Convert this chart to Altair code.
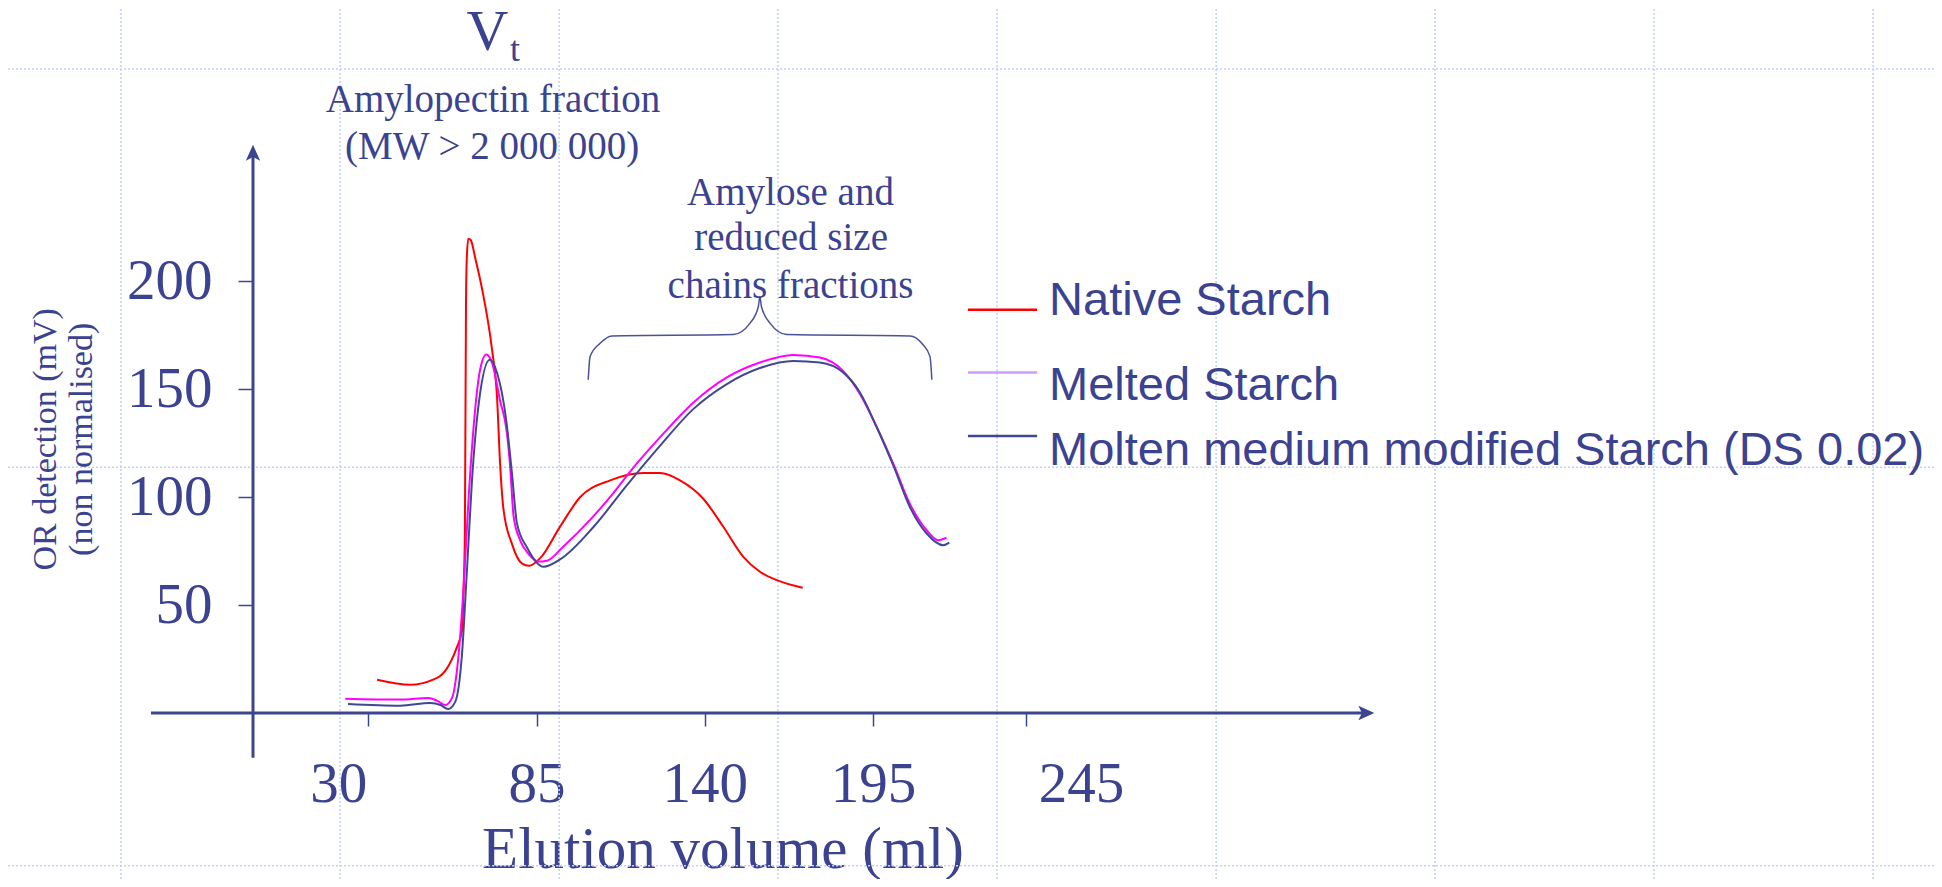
import altair as alt
import pandas as pd

# ---------------- data ----------------
SERIES = ["Native Starch", "Melted Starch", "Molten medium modified Starch (DS 0.02)"]

native_x = [32.9, 43.8, 51.4, 53.5, 56.5, 59.0, 60.6, 61.2, 61.6, 61.95, 62.2, 62.7, 63.5, 65.0,
            67.2, 70.4, 72.1, 73.1, 74.2, 77.0, 80.2, 82.6, 86.2, 92.7, 99.3, 109.1, 120.0, 125.4,
            131.9, 139.5, 146.1, 152.6, 158.0, 163.5, 172.0]
native_y = [15.4, 13.1, 15.6, 17.1, 22.5, 30.5, 38.0, 58.8, 84.5, 188.3, 210.0, 219.6, 219.0, 210.5,
            196.4, 168.9, 146.2, 115.4, 94.4, 78.2, 69.3, 68.2, 71.7, 86.3, 100.0, 107.7, 111.1, 111.1,
            107.7, 99.2, 86.1, 72.3, 65.4, 61.5, 58.0]

melted_x = [22.5, 40.5, 49.7, 52.5, 55.2, 57.4, 59.5, 61.2, 62.8, 64.4, 66.6, 68.6, 70.4, 73.1,
            75.3, 76.4, 77.5, 79.7, 82.5, 85.6, 88.4, 93.8, 102.5, 110.1, 115.6, 125.4, 136.3,
            147.2, 158.0, 168.9, 177.6, 185.2, 190.7, 196.2, 201.6, 207.0, 212.5, 216.3, 219.0]
melted_y = [6.6, 6.2, 7.0, 5.7, 3.7, 7.0, 26.5, 58.8, 99.3, 131.7, 159.2, 166.0, 162.4, 144.6,
            130.0, 113.8, 91.2, 79.8, 73.5, 70.1, 70.5, 77.1, 89.4, 101.8, 111.8, 127.7, 143.8,
            155.4, 162.3, 165.8, 164.6, 158.4, 147.7, 132.3, 115.4, 96.9, 84.6, 80.0, 81.2]

molten_x = [23.4, 40.5, 50.3, 53.6, 56.1, 58.5, 60.6, 62.3, 63.9, 66.1, 69.7, 72.1, 75.3, 77.0,
            78.6, 81.9, 87.3, 92.7, 103.6, 114.5, 125.4, 136.3, 147.2, 158.0, 168.9, 177.6,
            185.2, 190.7, 196.2, 201.6, 207.0, 212.5, 217.9, 219.9]
molten_y = [4.2, 3.4, 4.6, 3.7, 1.8, 5.4, 26.4, 66.9, 107.4, 143.0, 163.5, 157.5, 133.3, 110.6,
            87.9, 76.6, 67.7, 71.1, 86.1, 105.4, 123.8, 140.8, 152.3, 159.7, 163.0, 162.3,
            157.7, 148.4, 132.3, 114.6, 95.4, 83.1, 77.7, 78.9]

X_TICKS = [30, 85, 140, 195, 245]
Y_TICKS = [50, 100, 150, 200]
X_TITLE = "Elution volume (ml)"
Y_TITLE_LINES = ["OR detection (mV)", "(non normalised)"]
PEAK_LABEL_LINES = ["Amylopectin fraction", "(MW > 2 000 000)"]
HUMP_LABEL_LINES = ["Amylose and", "reduced size", "chains fractions"]

# ---------------- style / layout ----------------
W, H = 1681, 705
PAD = {"left": 245, "top": 0, "right": 0, "bottom": 166}
X_MIN, X_MAX = -7.65, 541.7
Y_MIN, Y_MAX = 0.0, 326.4
CANVAS_X = [-87.7, 541.7]
CANVAS_Y = [-76.8, 326.4]
X_SCALE = alt.Scale(domain=[X_MIN, X_MAX], nice=False, zero=False)
Y_SCALE = alt.Scale(domain=[Y_MIN, Y_MAX], nice=False, zero=False)

NAVY = "#3c4590"
TEXT = "#3b4290"
GRID = "#c3d0f4"
CURVE_COLORS = ["#ff0000", "#ff00ff", "#3f4893"]
LEGEND_COLORS = ["#ff0000", "#cc9cff", "#3f4893"]
SERIF = "Liberation Serif, Times New Roman, serif"
SANS = "Liberation Sans, Arial, sans-serif"

# background slide grid (data units)
GRID_X = [-50.8, 20.8, 92.4, 163.9, 235.5, 307.1, 378.6, 450.2, 521.8]
GRID_Y = [298.2, 113.75, -70.7]

# annotation placement (data units)
LAYOUT = {
    "yaxis_x": X_MIN, "yaxis_y": [-20.7, 259.4],
    "xaxis_y": 0.0, "xaxis_x": [-41.0, 356.2],
    "vt": (69.0, 306.8), "vt_sub": (76.3, 302.0),
    "peak_x": [70.8, 70.5], "peak_y": [278.3, 256.6],
    "hump_x": [168.0, 168.2, 168.0], "hump_y": [235.3, 214.4, 192.2],
    "ytitle_x": [-75.2, -63.5], "ytitle_y": [126.7, 126.7],
    "leg_line_x": (226.0, 248.6), "leg_line_y": [186.7, 157.6, 128.3],
    "leg_text_x": 252.5, "leg_text_y": [184.4, 145.0, 114.9],
}
BRACE_X = [101.9, 102.5, 105.8, 109.6, 149.3, 154.8, 157.5, 158.0, 158.5, 161.3, 166.8,
           207.1, 210.9, 213.6, 214.2]
BRACE_Y = [154.3, 165.0, 171.2, 174.6, 175.2, 180.5, 188.2, 192.8, 188.2, 180.5, 175.2,
           174.6, 171.2, 165.0, 154.3]

X_AXIS = alt.Axis(
    values=X_TICKS, format="d", domain=False, grid=False,
    tickSize=13, tickWidth=1.5, tickColor=NAVY,
    labelFont=SERIF, labelFontSize=57, labelColor=TEXT, labelBaseline="alphabetic",
    labelPadding=75.5, labelFlush=False, labelOverlap=False,
    labelOffset={"condition": [{"test": "datum.value === 30", "value": -30},
                               {"test": "datum.value === 245", "value": 55}],
                 "value": 0},
    title=X_TITLE, titleFont=SERIF, titleFontSize=59, titleFontWeight="normal", titleColor=TEXT,
    titleX=469.5, titleY=154, titleBaseline="alphabetic", titleAlign="center",
)
Y_AXIS = alt.Axis(
    values=Y_TICKS, format="d", domain=False, grid=False,
    tickSize=15, tickWidth=1.5, tickColor=NAVY,
    labelFont=SERIF, labelFontSize=57, labelColor=TEXT, labelBaseline="middle", labelAlign="right",
    labelPadding=26, labelFlush=False, labelOverlap=False, title="",
)


def X(field):
    return alt.X(field, scale=X_SCALE, axis=X_AXIS)


def Y(field):
    return alt.Y(field, scale=Y_SCALE, axis=Y_AXIS)


def text_layer(labels, xs, ys, font, size, align="center", baseline="alphabetic", angle=0):
    df = pd.DataFrame({"label": labels, "tx": xs, "ty": ys})
    return alt.Chart(df).mark_text(
        font=font, fontSize=size, align=align, baseline=baseline, angle=angle, color=TEXT
    ).encode(x=X("tx:Q"), y=Y("ty:Q"), text="label:N")


layers = []

# background grid covering the whole slide
layers.append(alt.Chart(pd.DataFrame({"gx": GRID_X, "gy": [CANVAS_Y[0]] * len(GRID_X),
                                      "gy2": [CANVAS_Y[1]] * len(GRID_X)}))
              .mark_rule(color=GRID, strokeWidth=1.5, strokeDash=[2, 2])
              .encode(x=X("gx:Q"), y=Y("gy:Q"), y2="gy2:Q"))
layers.append(alt.Chart(pd.DataFrame({"gy": GRID_Y, "gx": [CANVAS_X[0]] * len(GRID_Y),
                                      "gx2": [CANVAS_X[1]] * len(GRID_Y)}))
              .mark_rule(color=GRID, strokeWidth=1.5, strokeDash=[2, 2])
              .encode(y=Y("gy:Q"), x=X("gx:Q"), x2="gx2:Q"))

# brace
layers.append(alt.Chart(pd.DataFrame({"bx": BRACE_X, "by": BRACE_Y, "o": list(range(len(BRACE_X)))}))
              .mark_line(color="#4a5398", strokeWidth=1.5, interpolate="monotone")
              .encode(x=X("bx:Q"), y=Y("by:Q"), order="o:Q"))

# curves
rows = []
for name, xs_, ys_ in zip(SERIES, [native_x, melted_x, molten_x], [native_y, melted_y, molten_y]):
    for i, (a, b) in enumerate(zip(xs_, ys_)):
        rows.append({"series": name, "vol": a, "mv": b, "o": i})
curves_df = pd.DataFrame(rows)

layers.append(alt.Chart(curves_df).mark_line(strokeWidth=2, interpolate="monotone").encode(
    x=X("vol:Q"),
    y=Y("mv:Q"),
    color=alt.Color("series:N", scale=alt.Scale(domain=SERIES, range=CURVE_COLORS), legend=None),
    order="o:Q",
))

# axis lines with arrow heads
layers.append(alt.Chart(pd.DataFrame({"ax": [LAYOUT["xaxis_x"][0]], "ax2": [LAYOUT["xaxis_x"][1]],
                                      "ay": [LAYOUT["xaxis_y"]]}))
              .mark_rule(color=NAVY, strokeWidth=3)
              .encode(x=X("ax:Q"), x2="ax2:Q", y=Y("ay:Q")))
layers.append(alt.Chart(pd.DataFrame({"ax": [LAYOUT["yaxis_x"]], "ay": [LAYOUT["yaxis_y"][0]],
                                      "ay2": [LAYOUT["yaxis_y"][1]]}))
              .mark_rule(color=NAVY, strokeWidth=3)
              .encode(x=X("ax:Q"), y=Y("ay:Q"), y2="ay2:Q"))
layers.append(alt.Chart(pd.DataFrame({"ax": [LAYOUT["yaxis_x"]], "ay": [LAYOUT["yaxis_y"][1]]}))
              .mark_point(shape="M0,-1L0.9,1L0,0.55L-0.9,1Z", filled=True, size=256, color=NAVY, opacity=1)
              .encode(x=X("ax:Q"), y=Y("ay:Q")))
layers.append(alt.Chart(pd.DataFrame({"ax": [LAYOUT["xaxis_x"][1]], "ay": [LAYOUT["xaxis_y"]]}))
              .mark_point(shape="M1,0L-1,0.9L-0.55,0L-1,-0.9Z", filled=True, size=256, color=NAVY, opacity=1)
              .encode(x=X("ax:Q"), y=Y("ay:Q")))

# legend (drawn manually)
for name, col, ly in zip(SERIES, LEGEND_COLORS, LAYOUT["leg_line_y"]):
    layers.append(alt.Chart(pd.DataFrame({"lx": [LAYOUT["leg_line_x"][0]], "lx2": [LAYOUT["leg_line_x"][1]],
                                          "ly": [ly], "s": [name]}))
                  .mark_rule(color=col, strokeWidth=2.5)
                  .encode(x=X("lx:Q"), x2="lx2:Q", y=Y("ly:Q")))
layers.append(text_layer(SERIES, [LAYOUT["leg_text_x"]] * 3, LAYOUT["leg_text_y"], SANS, 47, align="left"))

# annotations
layers.append(text_layer(["V"], [LAYOUT["vt"][0]], [LAYOUT["vt"][1]], SERIF, 58))
layers.append(text_layer(["t"], [LAYOUT["vt_sub"][0]], [LAYOUT["vt_sub"][1]], SERIF, 36, align="left"))
layers.append(text_layer(PEAK_LABEL_LINES, LAYOUT["peak_x"], LAYOUT["peak_y"], SERIF, 39))
layers.append(text_layer(HUMP_LABEL_LINES, LAYOUT["hump_x"], LAYOUT["hump_y"], SERIF, 39))
layers.append(text_layer(Y_TITLE_LINES, LAYOUT["ytitle_x"], LAYOUT["ytitle_y"], SERIF, 34,
                         baseline="middle", angle=270))

chart = alt.layer(*layers).properties(
    width=W, height=H, autosize=alt.AutoSizeParams(type="none"), padding=PAD, background="white"
).configure_view(strokeWidth=0)

chart.save("out.html", embed_options={"renderer": "svg", "actions": False})
